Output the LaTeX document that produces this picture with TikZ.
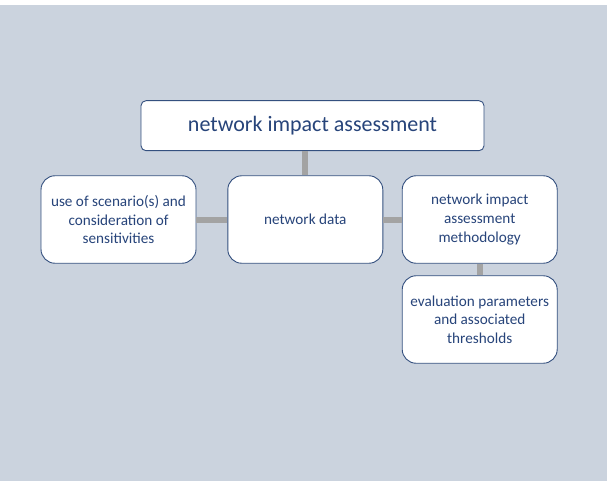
\documentclass[tikz,border=0pt]{standalone}
\usepackage{fontspec}
\setmainfont{Carlito}
\usetikzlibrary{arrows}
\usepackage{xcolor}
\definecolor{bgblue}{HTML}{CBD3DE}
\definecolor{boxline}{HTML}{34507F}
\definecolor{boxtext}{HTML}{27447A}
\definecolor{linkgray}{HTML}{A3A3A3}

\begin{document}
\begin{tikzpicture}[x=1pt,y=-1pt]

		\useasboundingbox (0,0) rectangle (607,481);
		\fill[white] (0,0) rectangle (607,481);
		\fill[bgblue] (0,5) rectangle (607,481);

		\tikzset{block/.style = {shape=rectangle,draw=boxline,fill=white,line width=0.9pt,rounded corners=14pt,text=boxtext,align=center,inner sep=0pt,minimum width=155pt,minimum height=87.5pt,font=\fontsize{15.2}{18.7}\selectfont}}
		\tikzset{headblock/.style = {block,rounded corners=5pt,minimum width=343pt,minimum height=50pt,font=\fontsize{22}{26}\selectfont}}
		\tikzset{edge/.style = {-,draw=linkgray,line width=6pt}}
		\node[headblock] (NIA) at (312.5,125.7) {network impact assessment};
		\node[block] (SC) at (118.5,219.5) {use of scenario(s) and\\consideration of\\sensitivities};
		\node[block] (ND) at (305.3,219.5) {network data};
		\node[block] (ME) at (479.7,219.5) {network impact\\assessment\\methodology};
		\node[block] (EV) at (479.7,319.5) {evaluation parameters\\and associated\\thresholds};
		%edges
		\draw[edge] (NIA.south -| ND.north) to (ND.north);
		\draw[edge] (SC) to (ND);
		\draw[edge] (ND) to (ME);
		\draw[edge] (ME) to (EV);
		\end{tikzpicture}
\end{document}
